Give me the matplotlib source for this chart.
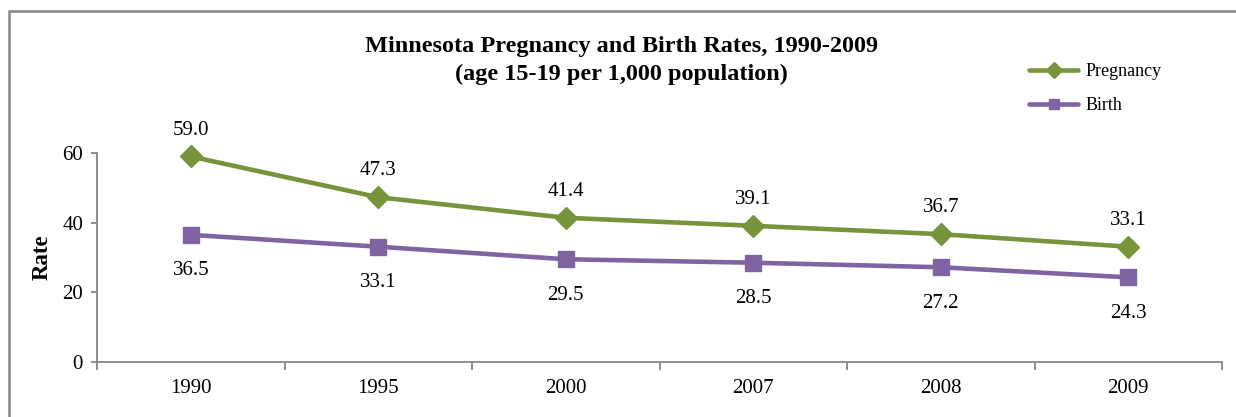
import numpy as np
import matplotlib
matplotlib.use("Agg")
import matplotlib.pyplot as plt
from matplotlib.patches import Rectangle

plt.rcParams.update({
    "font.family": ["Liberation Serif", "DejaVu Serif"],
    "axes.edgecolor": "#868686",
    "axes.linewidth": 1.3,
    "xtick.color": "#868686",
    "ytick.color": "#868686",
    "xtick.labelcolor": "#000000",
    "ytick.labelcolor": "#000000",
})

GREEN = "#77933C"
PURPLE = "#8064A2"
GRAY = "#868686"

years = ["1990", "1995", "2000", "2007", "2008", "2009"]
pregnancy = [59.0, 47.3, 41.4, 39.1, 36.7, 33.1]
birth = [36.5, 33.1, 29.5, 28.5, 27.2, 24.3]

x = np.arange(len(years))

fig = plt.figure(figsize=(12.36, 4.17), dpi=100)
ax = fig.add_axes([97 / 1236, 55 / 417, 1125 / 1236, 209 / 417])

ax.plot(x, pregnancy, color=GREEN, lw=3.3, marker="D", ms=11, label="Pregnancy",
        solid_capstyle="round", zorder=3, clip_on=False)
ax.plot(x, birth, color=PURPLE, lw=3.3, marker="s", ms=11, label="Birth",
        solid_capstyle="round", zorder=3, clip_on=False)

# data labels: pregnancy above, birth below
for xi, v in zip(x, pregnancy):
    ax.annotate(f"{v:.1f}", (xi, v), xytext=(0, 19), textcoords="offset points",
                ha="center", va="center", fontsize=15)
for xi, v in zip(x, birth):
    ax.annotate(f"{v:.1f}", (xi, v), xytext=(0, -26), textcoords="offset points",
                ha="center", va="center", fontsize=15)

ax.set_xlim(-0.5, len(years) - 0.5)
ax.set_ylim(0, 60)
ax.set_yticks([0, 20, 40, 60])
ax.set_xticks(x, years)
ax.set_xticks(np.arange(-0.5, len(years)), minor=True)
ax.tick_params(axis="x", which="major", length=0, pad=12, labelsize=15)
ax.tick_params(axis="x", which="minor", length=6, width=1.3, direction="out")
ax.tick_params(axis="y", length=4, width=1.3, pad=6, labelsize=15)

for s in ["top", "right"]:
    ax.spines[s].set_visible(False)

ax.set_ylabel("Rate", fontsize=16.5, fontweight="bold", labelpad=7)

fig.text(0.503, 0.855, "Minnesota Pregnancy and Birth Rates, 1990-2009\n(age 15-19 per 1,000 population)",
         ha="center", va="center", fontsize=17.5, fontweight="bold", linespacing=1.45)

fig.legend(loc="upper left", bbox_to_anchor=(1013 / 1236, 1 - 47 / 417),
           frameon=False, fontsize=13, handlelength=2.7, labelspacing=0.95,
           handletextpad=0.4, markerscale=0.7)

# chart-area border (cropped at right and bottom)
fig.patches.append(Rectangle((8.5 / 1236, -0.2), 1.2, (417 - 11) / 417 + 0.2,
                             transform=fig.transFigure, fill=False,
                             edgecolor=GRAY, lw=1.8, clip_on=False))

fig.savefig("out.png", dpi=100)
